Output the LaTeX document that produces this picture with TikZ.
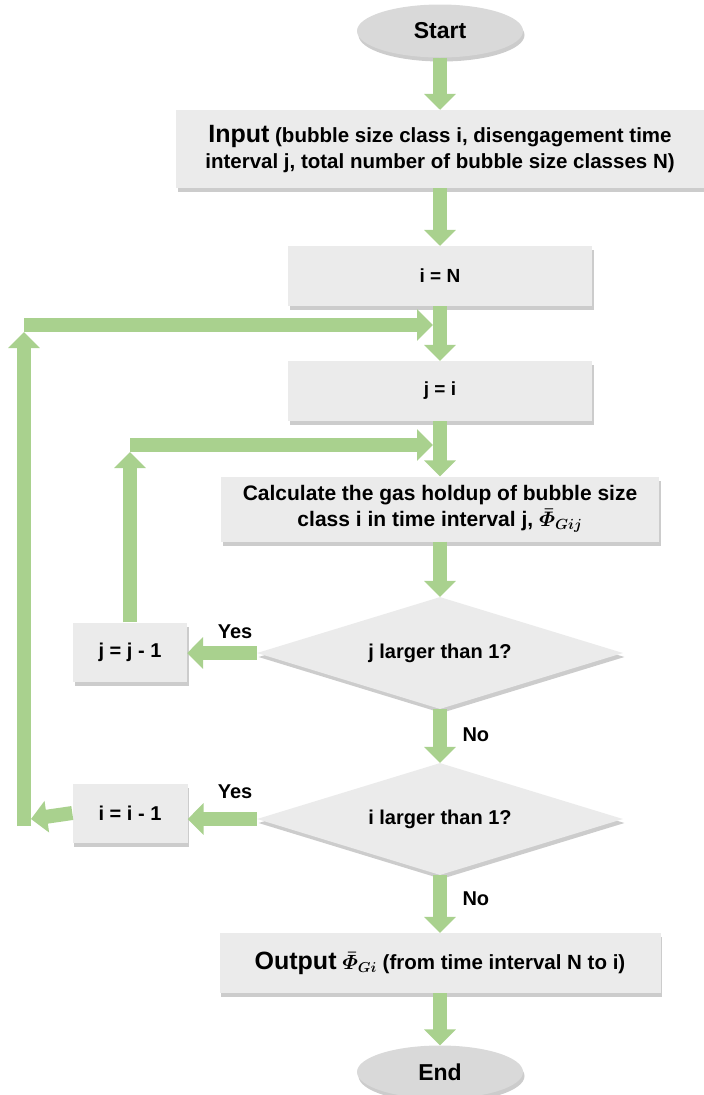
\RequirePackage{fix-cm}
\documentclass[tikz,border=0pt]{standalone}
\usepackage{amsmath}
\usepackage{fontspec}
\setmainfont{Liberation Sans}
\usetikzlibrary{arrows.meta,shapes.geometric,shadows}
\definecolor{flowgreen}{HTML}{A9D18E}
\definecolor{boxgray}{HTML}{EBEBEB}
\definecolor{termgray}{HTML}{D9D9D9}

\begin{document}
\begin{tikzpicture}[x=1pt, y=-1pt,
  every node/.style={font=\bfseries\fontsize{20}{26}\selectfont},
  softshadow/.style={drop shadow={shadow xshift=1.5pt, shadow yshift=-4pt, opacity=0.2, fill=black}},
  box/.style={rectangle, fill=boxgray, inner sep=0pt, align=center, softshadow},
  term/.style={ellipse, fill=termgray, inner sep=0pt, minimum width=166pt, minimum height=53pt, softshadow, font=\bfseries\fontsize{23}{26}\selectfont},
  decision/.style={diamond, aspect=3.3, fill=boxgray, inner sep=0pt, minimum width=366pt, minimum height=112pt, softshadow},
  flow/.style={draw=flowgreen, line width=14pt, -{Triangle[width=31pt,length=16pt]}}]
\useasboundingbox (0,0) rectangle (704,1095);
% Draw nodes
\node[term] (start) at (440,31) {Start};
\node[box, minimum width=528pt, minimum height=78pt, font=\bfseries\fontsize{20.5}{26}\selectfont] (input) at (440,149)
  {{\fontsize{25}{26}\selectfont Input} (bubble size class i, disengagement time\\interval j, total number of bubble size classes N)};
\node[box, minimum width=304pt, minimum height=60pt, font=\bfseries\fontsize{19}{24}\selectfont] (iN) at (440,276) {i = N};
\node[box, minimum width=304pt, minimum height=60pt, font=\bfseries\fontsize{19}{24}\selectfont] (jI) at (440,391) {j = i};
\node[box, minimum width=438pt, minimum height=65pt, font=\bfseries\fontsize{21}{26}\selectfont\boldmath] (calc) at (440,509)
  {Calculate the gas holdup of bubble size\\class i in time interval j, $\bar{\varPhi}_{Gij}$};
\node[decision] (jdec) at (440,653) {j larger than 1?};
\node[box, minimum width=114pt, minimum height=59pt] (jm1) at (130,652) {j = j - 1};
\node[decision] (idec) at (440,819) {i larger than 1?};
\node[box, minimum width=115pt, minimum height=59pt] (im1) at (130,813) {i = i - 1};
\node[box, minimum width=441pt, minimum height=60pt, font=\bfseries\fontsize{20.5}{26}\selectfont\boldmath] (output) at (440,963)
  {{\fontsize{25}{26}\selectfont Output} $\bar{\varPhi}_{Gi}$ (from time interval N to i)};
\node[term] (end) at (440,1072) {End};
% Draw loop corners
\coordinate (jjoin) at (433,445);
\coordinate (jturn) at (jm1.north |- jjoin);
\coordinate (ijoin) at (433,325);
\coordinate (iturn) at (24,325);
\coordinate (ibase) at (iturn |- idec.west);
% Draw arrows
\draw[flow] (start) -- (input);
\draw[flow] (input) -- (iN);
\draw[flow] (iN) -- (jI);
\draw[flow] (jI) -- (calc);
\draw[flow] (calc) -- (jdec);
\draw[flow] (jdec) -- (idec);
\draw[flow] (idec) -- (output);
\draw[flow] (output) -- (end);
\draw[flow] (jdec.west) -- (jdec.west -| jm1.east);
\draw[flow] (idec.west) -- (idec.west -| im1.east);
\draw[flow] (jm1.north) -- ([yshift=-7pt]jturn);
\draw[flow] (jturn) -- (jjoin);
\draw[flow] (im1.west) -- ([xshift=7pt]ibase);
\draw[flow] ([yshift=-7pt]ibase) -- ([yshift=-7pt]iturn);
\draw[flow] (iturn) -- (ijoin);
% Draw labels
\node (jyes) at (235,632) {Yes};
\node[anchor=west] (jno) at (459,735) {No};
\node (iyes) at (235,792) {Yes};
\node[anchor=west] (ino) at (459,899) {No};
\end{tikzpicture}
\end{document}
